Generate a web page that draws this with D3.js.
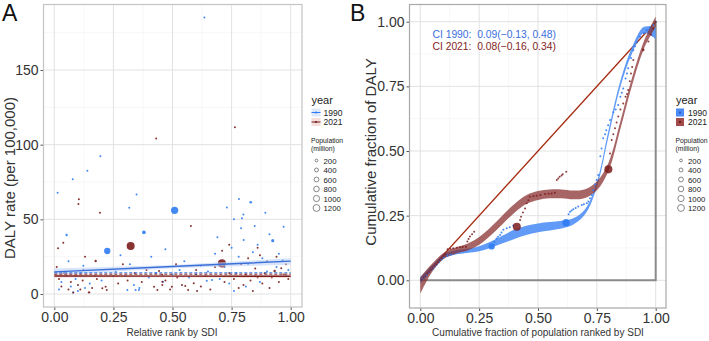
<!DOCTYPE html>
<html>
<head>
<meta charset="utf-8">
<script src="https://cdn.jsdelivr.net/npm/d3@7"></script>
<style>
  body { margin: 0; background: #fff; }
  svg { font-family: "Liberation Sans", Arial, sans-serif; }
</style>
</head>
<body>
<div class="chart-container"></div>
<script>
// ---- Panel A data: relative SDI rank vs DALY rate ----
const rankA1990 = [0.509,0.224,0.379,0.052,0.831,0.924,0.966,0.781,0.80,0.893,0.848,0.794,0.801,0.014,0.078,0.14,0.348,0.317,0.635,0.195,0.667,0.645,0.344,0.358,0.337,0.309,0.123,
  0.02,0.03,0.05,0.06,0.07,0.08,0.09,0.10,0.11,0.13,0.15,0.17,0.20,0.26,0.28,0.30,0.32,0.36,0.40,0.41,0.43,0.46,0.50,0.53,0.55,0.57,0.60,0.62,0.65,0.68,0.70,0.72,0.74,0.75,0.76,0.77,0.78,0.79,0.81,0.82,0.84,0.85,0.86,0.87,0.88,0.90,0.91,0.94,0.95,0.97,0.98,0.99,0.76,0.73,0.69,0.47];
const rateA1990 = [56,28.8,41.3,39.5,61.4,35.7,22.5,63.6,53.3,54.4,45.5,50.7,36.1,67.8,76.8,82.5,66.7,57.8,185.2,92.2,9.4,8.9,2.7,2.7,6,2.7,19,
  3,8,12,22,5,1,10,2,14,4,7,12,9,15,26,12,20,4,11,25,14,8,13,16,22,11,13,19,15,27,10,18,7,31,2,14,25,44,5,20,28,12,33,8,24,15,40,18,27,45,12,16,50,58,38,30];
const popA1990 = [1150,870,300,120,150,220,140,40,60,60,20,15,30,40,5,15,5,10,2,3,90,70,50,30,25,30,70,
  10,8,15,5,20,12,6,30,8,5,10,6,4,6,3,5,6,10,5,4,6,5,4,7,3,5,8,6,10,5,6,5,8,5,20,6,8,4,10,12,6,5,4,6,5,10,3,8,5,3,15,6,3,2,4,3];

const rankA2021 = [0.709,0.323,0.175,0.147,0.515,0.932,0.038,0.016,0.123,0.443,0.457,0.436,0.422,0.457,0.457,0.497,0.554,0.59,0.604,0.566,0.54,0.203,0.217,0.222,0.578,0.104,0.102,0.193,0.431,0.764,0.96,
  0.01,0.02,0.03,0.04,0.06,0.07,0.08,0.09,0.10,0.11,0.12,0.13,0.16,0.18,0.25,0.27,0.29,0.31,0.34,0.37,0.39,0.47,0.49,0.52,0.60,0.62,0.64,0.66,0.68,0.72,0.74,0.76,0.78,0.79,0.80,0.81,0.82,0.83,0.84,0.85,0.86,0.87,0.88,0.89,0.90,0.91,0.92,0.94,0.95,0.97,0.98,0.99,0.71,0.74,0.86];
const rateA2021 = [20.5,32.1,22.1,1.1,19.9,15.4,34.3,30.6,16,15.4,12.7,2.7,4.9,6,8.2,4.9,5.4,7.2,2,2.7,6,3.8,4.9,2.7,45.5,63.4,60.2,54.4,104.2,111.6,17.2,
  18,10,5,14,3,8,1,12,6,3,9,25,4,10,12,7,20,9,14,8,16,9,3,11,16,5,12,3,18,8,14,10,4,20,6,13,24,9,2,17,11,26,7,14,22,4,11,25,8,13,20,10,29,33,31];
const popA2021 = [1420,1410,120,120,100,130,60,15,50,40,10,60,30,15,12,50,40,20,15,40,10,25,15,20,15,4,4,5,2,2,20,
  10,8,6,12,15,10,20,8,15,10,6,4,6,5,4,6,3,4,5,6,4,5,12,8,5,6,6,10,5,12,6,8,10,6,15,8,5,6,10,6,5,4,8,10,5,8,6,4,10,12,5,6,5,4,3];

// regression fits in panel A (x, fit, lower, upper)
const fitAx = [0, 0.5, 1];
const fitA1990 = [14.8, 18.4, 22.0];
const fitA1990Lo = [12.8, 17.3, 19.6];
const fitA1990Hi = [17.0, 19.5, 24.0];
const fitA2021 = [12.1, 12.0, 11.9];
const fitA2021Lo = [11.0, 11.3, 10.8];
const fitA2021Hi = [13.2, 12.7, 13.0];
const meanA1990 = 14.2;
const meanA2021 = 13.3;

// ---- Panel B data: concentration curves ----
const cumPop1990 = [0.005,0.013,0.02,0.027,0.038,0.048,0.055,0.062,0.07,0.08,0.09,0.10,0.115,0.128,
  0.303,0.315,0.324,0.33,0.339,0.345,0.353,0.367,0.38,0.395,
  0.619,0.63,0.636,0.643,0.65,0.66,0.671,0.686,0.695,0.707,0.714,0.721,0.728,0.735,0.742,0.749,0.756,0.765,0.77,0.777,0.785,0.79,0.798,0.806,0.82,0.83,0.841,0.85,0.856,0.862,0.872,0.878,0.883,0.895,0.905,0.912,0.92,0.933,0.95,0.962,0.975,0.99,1.0];
const cumDaly1990 = [0.003,0.008,0.014,0.02,0.03,0.04,0.046,0.053,0.06,0.07,0.08,0.088,0.095,0.10,
  0.131,0.148,0.162,0.168,0.175,0.185,0.195,0.201,0.205,0.212,
  0.223,0.255,0.265,0.27,0.275,0.28,0.285,0.291,0.294,0.298,0.305,0.317,0.33,0.349,0.37,0.388,0.407,0.48,0.51,0.549,0.565,0.58,0.60,0.62,0.65,0.66,0.678,0.71,0.725,0.742,0.78,0.80,0.82,0.86,0.89,0.905,0.92,0.942,0.955,0.968,0.978,0.987,1.0];
const popB1990 = [10,15,8,20,12,25,8,30,10,15,20,10,25,15,
  870,40,30,10,50,10,40,30,20,25,
  1150,15,50,10,30,12,45,30,10,35,10,25,10,30,10,20,15,20,10,25,10,15,10,30,20,10,40,15,10,30,20,10,25,15,30,10,20,25,15,20,12,15,8];

const cumPop2021 = [0.005,0.015,0.022,0.03,0.038,0.045,0.052,0.06,0.068,0.075,0.083,0.09,0.098,0.105,0.116,0.128,0.14,0.155,0.169,0.18,0.194,0.20,0.205,0.211,0.22,0.229,
  0.41,0.424,0.428,0.436,0.445,0.452,0.459,0.465,0.48,0.494,0.51,0.53,0.545,0.558,0.572,0.58,0.586,0.592,0.60,0.605,0.62,
  0.799,0.806,0.813,0.82,0.827,0.834,0.841,0.85,0.862,0.872,0.878,0.883,0.89,0.895,0.90,0.905,0.947,0.969,0.98,0.99,1.0];
const cumDaly2021 = [0.002,0.01,0.016,0.025,0.032,0.04,0.047,0.055,0.062,0.07,0.078,0.085,0.093,0.10,0.12,0.122,0.124,0.126,0.128,0.129,0.13,0.15,0.16,0.169,0.178,0.188,
  0.207,0.233,0.246,0.262,0.278,0.298,0.31,0.323,0.325,0.327,0.33,0.334,0.335,0.336,0.339,0.388,0.394,0.40,0.405,0.41,0.42,
  0.429,0.49,0.543,0.565,0.588,0.61,0.633,0.66,0.684,0.71,0.72,0.736,0.77,0.80,0.825,0.852,0.891,0.923,0.95,0.974,1.0];
const popB2021 = [10,15,8,20,10,25,8,20,10,30,10,25,10,20,40,15,50,15,40,10,50,20,10,25,15,20,
  1410,50,40,15,30,25,20,60,15,70,15,50,15,40,30,25,10,20,10,25,20,
  1420,10,30,10,25,10,25,20,30,20,10,25,10,20,10,30,150,40,20,25,8];

// fitted curves with confidence band (x, centre, half width)
const fitBx = [0,0.05,0.1,0.15,0.2,0.25,0.3,0.35,0.4,0.45,0.5,0.55,0.6,0.65,0.7,0.75,0.8,0.85,0.9,0.95,1.0];
const fitB1990 = [0.0,0.05,0.093,0.108,0.114,0.122,0.138,0.158,0.178,0.193,0.203,0.209,0.215,0.228,0.265,0.37,0.57,0.76,0.89,0.968,0.955];
const fitB1990Hw = [0.012,0.008,0.008,0.008,0.008,0.01,0.012,0.015,0.018,0.018,0.017,0.016,0.015,0.012,0.01,0.01,0.012,0.012,0.012,0.012,0.022];
const fitB2021 = [-0.02,0.048,0.095,0.115,0.128,0.152,0.19,0.235,0.278,0.312,0.328,0.334,0.334,0.33,0.335,0.365,0.44,0.6,0.77,0.91,1.0];
const fitB2021Hw = [0.032,0.016,0.012,0.012,0.013,0.015,0.016,0.017,0.017,0.017,0.017,0.017,0.017,0.017,0.017,0.017,0.016,0.015,0.015,0.015,0.02];

const ciLabels = ["CI 1990:  0.09(\u22120.13, 0.48)", "CI 2021:  0.08(\u22120.16, 0.34)"];
const popLegend = [200, 400, 600, 800, 1000, 1200];
const years = ["1990", "2021"];

// colours
const blue = "#2f7bf2";
const red = "#7b1c1c";

const width = 709;
const height = 341;

const svg = d3.select(".chart-container")
  .append("svg")
  .attr("width", width)
  .attr("height", height);

// point size scale shared by both panels
const size = d3.scaleSqrt().domain([0, 1400]).range([0, 4.0]);
const rad = p => Math.max(1.0, size(p));

// generic panel frame: grid, ticks, labels
function drawFrame(x, y, box, xTicks, yTicks, xMinor, yMinor, xFmt, yFmt) {
  const g = svg.append("g");
  g.append("rect")
    .attr("x", box.x0).attr("y", box.y0)
    .attr("width", box.x1 - box.x0).attr("height", box.y1 - box.y0)
    .attr("fill", "#fff");
  // minor grid
  g.selectAll(".xminor").data(xMinor).enter().append("line")
    .attr("x1", d => x(d)).attr("x2", d => x(d))
    .attr("y1", box.y0).attr("y2", box.y1)
    .attr("stroke", "#f1f1f1").attr("stroke-width", 0.6);
  g.selectAll(".yminor").data(yMinor).enter().append("line")
    .attr("y1", d => y(d)).attr("y2", d => y(d))
    .attr("x1", box.x0).attr("x2", box.x1)
    .attr("stroke", "#f1f1f1").attr("stroke-width", 0.6);
  // major grid
  g.selectAll(".xmajor").data(xTicks).enter().append("line")
    .attr("x1", d => x(d)).attr("x2", d => x(d))
    .attr("y1", box.y0).attr("y2", box.y1)
    .attr("stroke", "#e2e2e2").attr("stroke-width", 1);
  g.selectAll(".ymajor").data(yTicks).enter().append("line")
    .attr("y1", d => y(d)).attr("y2", d => y(d))
    .attr("x1", box.x0).attr("x2", box.x1)
    .attr("stroke", "#e2e2e2").attr("stroke-width", 1);

  // axes using d3 axis generators
  const xAxis = svg.append("g")
    .attr("transform", `translate(0,${box.y1})`)
    .call(d3.axisBottom(x).tickValues(xTicks).tickFormat(xFmt).tickSize(3).tickPadding(2));
  const yAxis = svg.append("g")
    .attr("transform", `translate(${box.x0},0)`)
    .call(d3.axisLeft(y).tickValues(yTicks).tickFormat(yFmt).tickSize(3).tickPadding(2));
  [xAxis, yAxis].forEach(a => {
    a.select(".domain").remove();
    a.selectAll("line").attr("stroke", "#555");
    a.selectAll("text").attr("fill", "#333").style("font-size", "14px")
      .style("font-family", "Liberation Sans, Arial, sans-serif");
  });
  return g;
}

function drawBorder(box, col, w) {
  svg.append("rect")
    .attr("x", box.x0).attr("y", box.y0)
    .attr("width", box.x1 - box.x0).attr("height", box.y1 - box.y0)
    .attr("fill", "none").attr("stroke", col).attr("stroke-width", w);
}

// ================= Panel A =================
const boxA = {x0: 43.5, x1: 302, y0: 4.5, y1: 307};
const xA = d3.scaleLinear().domain([0, 1]).range([54.3, 290.7]);
const yA = d3.scaleLinear().domain([0, 150]).range([294, 70]);

drawFrame(xA, yA, boxA, [0, 0.25, 0.5, 0.75, 1], [0, 50, 100, 150],
  [0.125, 0.375, 0.625, 0.875], [25, 75, 125, 175], d3.format(".2f"), d3.format("d"));

const gA = svg.append("g");
const ptsA1990 = rankA1990.map((r, i) => ({x: r, y: rateA1990[i], p: popA1990[i]}));
const ptsA2021 = rankA2021.map((r, i) => ({x: r, y: rateA2021[i], p: popA2021[i]}));

gA.selectAll(".pa1990").data(ptsA1990).enter().append("circle")
  .attr("cx", d => xA(d.x)).attr("cy", d => yA(d.y)).attr("r", d => rad(d.p))
  .attr("fill", blue).attr("opacity", 0.9);
gA.selectAll(".pa2021").data(ptsA2021).enter().append("circle")
  .attr("cx", d => xA(d.x)).attr("cy", d => yA(d.y)).attr("r", d => rad(d.p))
  .attr("fill", red).attr("opacity", 0.9);

// ribbons + fitted lines
const bandA = d3.area().x(d => xA(d.x)).y0(d => yA(d.lo)).y1(d => yA(d.hi));
const lineA = d3.line().x(d => xA(d.x)).y(d => yA(d.y));
const fA1990 = fitAx.map((x, i) => ({x, y: fitA1990[i], lo: fitA1990Lo[i], hi: fitA1990Hi[i]}));
const fA2021 = fitAx.map((x, i) => ({x, y: fitA2021[i], lo: fitA2021Lo[i], hi: fitA2021Hi[i]}));

gA.append("path").datum(fA1990).attr("d", bandA).attr("fill", "#bcd2f5").attr("opacity", 0.6);
gA.append("path").datum(fA2021).attr("d", bandA).attr("fill", "#e8b9b9").attr("opacity", 0.6);
gA.append("line")
  .attr("x1", xA(0)).attr("x2", xA(1)).attr("y1", yA(meanA1990)).attr("y2", yA(meanA1990))
  .attr("stroke", blue).attr("stroke-width", 1).attr("stroke-dasharray", "3,2");
gA.append("line")
  .attr("x1", xA(0)).attr("x2", xA(1)).attr("y1", yA(meanA2021)).attr("y2", yA(meanA2021))
  .attr("stroke", red).attr("stroke-width", 1).attr("stroke-dasharray", "3,2");
gA.append("path").datum(fA1990).attr("d", lineA).attr("fill", "none")
  .attr("stroke", "#3a6fd8").attr("stroke-width", 1.4);
gA.append("path").datum(fA2021).attr("d", lineA).attr("fill", "none")
  .attr("stroke", red).attr("stroke-width", 1.4);

drawBorder(boxA, "#c4c4c4", 1.2);

// axis titles A
svg.append("text").attr("x", 172).attr("y", 336).attr("text-anchor", "middle")
  .style("font-size", "10px").attr("fill", "#333").text("Relative rank by SDI");
svg.append("text").attr("transform", "translate(15,178) rotate(-90)").attr("text-anchor", "middle")
  .style("font-size", "15px").attr("fill", "#333").text("DALY rate (per 100,000)");
svg.append("text").attr("x", 2).attr("y", 21).style("font-size", "23px").attr("fill", "#111").text("A");

// ================= Panel B =================
const boxB = {x0: 409.5, x1: 666, y0: 4.5, y1: 308};
const xB = d3.scaleLinear().domain([0, 1]).range([420.3, 655.7]);
const yB = d3.scaleLinear().domain([0, 1]).range([280.3, 21.7]);

drawFrame(xB, yB, boxB, [0, 0.25, 0.5, 0.75, 1], [0, 0.25, 0.5, 0.75, 1],
  [0.125, 0.375, 0.625, 0.875], [0.125, 0.375, 0.625, 0.875], d3.format(".2f"), d3.format(".2f"));

const gB = svg.append("g");
// equality reference lines
gB.append("path")
  .attr("d", d3.line()([[xB(0), yB(0)], [xB(1), yB(0)], [xB(1), yB(1)]]))
  .attr("fill", "none").attr("stroke", "#8a8a8a").attr("stroke-width", 2);
gB.append("line")
  .attr("x1", xB(0)).attr("y1", yB(0)).attr("x2", xB(1)).attr("y2", yB(1))
  .attr("stroke", "#a52a10").attr("stroke-width", 1.3);

const bandB = d3.area().curve(d3.curveCatmullRom)
  .x(d => xB(d.x)).y0(d => yB(d.y - d.hw)).y1(d => yB(d.y + d.hw));
const fB1990 = fitBx.map((x, i) => ({x, y: fitB1990[i], hw: fitB1990Hw[i]}));
const fB2021 = fitBx.map((x, i) => ({x, y: fitB2021[i], hw: fitB2021Hw[i]}));
gB.append("path").datum(fB1990).attr("d", bandB).attr("fill", "#5090f6").attr("opacity", 0.9);
gB.append("path").datum(fB2021).attr("d", bandB).attr("fill", "#85292a").attr("opacity", 0.72);

const ptsB1990 = cumPop1990.map((x, i) => ({x, y: cumDaly1990[i], p: popB1990[i]}));
const ptsB2021 = cumPop2021.map((x, i) => ({x, y: cumDaly2021[i], p: popB2021[i]}));

gB.selectAll(".pb1990").data(ptsB1990).enter().append("circle")
  .attr("cx", d => xB(d.x)).attr("cy", d => yB(d.y)).attr("r", d => rad(d.p))
  .attr("fill", blue).attr("opacity", 0.9);
gB.selectAll(".pb2021").data(ptsB2021).enter().append("circle")
  .attr("cx", d => xB(d.x)).attr("cy", d => yB(d.y)).attr("r", d => rad(d.p))
  .attr("fill", red).attr("opacity", 0.85);

drawBorder(boxB, "#a9a9a9", 1.2);

// CI annotations (keep the double space after the colon)
svg.selectAll(".ci").data(ciLabels).enter().append("text")
  .attr("x", 432.5).attr("y", (d, i) => 37.5 + i * 12.5)
  .attr("xml:space", "preserve")
  .style("white-space", "pre")
  .style("font-size", "10.3px")
  .attr("fill", (d, i) => i === 0 ? "#3a6ee0" : "#842424")
  .text(d => d);

svg.append("text").attr("x", 538).attr("y", 336).attr("text-anchor", "middle")
  .style("font-size", "10px").attr("fill", "#333").text("Cumulative fraction of population ranked by SDI");
svg.append("text").attr("transform", "translate(376,152) rotate(-90)").attr("text-anchor", "middle")
  .style("font-size", "15px").attr("fill", "#333").text("Cumulative fraction of DALY");
svg.append("text").attr("x", 350).attr("y", 21).style("font-size", "23px").attr("fill", "#111").text("B");

// ================= Legends =================
function drawLegend(lx, type) {
  const g = svg.append("g");
  g.append("text").attr("x", lx).attr("y", 104).style("font-size", "11px").attr("fill", "#222").text("year");
  years.forEach((yr, i) => {
    const ky = 112.5 + i * 9.5;
    const col = i === 0 ? blue : red;
    if (type === "line") {
      g.append("rect").attr("x", lx).attr("y", ky - 4).attr("width", 9).attr("height", 8)
        .attr("fill", i === 0 ? "#dfe8f8" : "#f3dede");
      g.append("line").attr("x1", lx).attr("x2", lx + 9).attr("y1", ky).attr("y2", ky)
        .attr("stroke", col).attr("stroke-width", 1);
      g.append("circle").attr("cx", lx + 4.5).attr("cy", ky).attr("r", 1.1).attr("fill", col);
    } else {
      g.append("rect").attr("x", lx).attr("y", ky - 4).attr("width", 8).attr("height", 8)
        .attr("fill", i === 0 ? "#4c8af5" : "#a34a4a");
      g.append("circle").attr("cx", lx + 4).attr("cy", ky).attr("r", 0.9).attr("fill", i === 0 ? "#1d4fb0" : "#4a0d0d");
    }
    g.append("text").attr("x", lx + 12).attr("y", ky + 3).style("font-size", "8.5px").attr("fill", "#222").text(yr);
  });
  g.append("text").attr("x", lx - 0.5).attr("y", 142.5).style("font-size", "6.8px").attr("fill", "#222").text("Population");
  g.append("text").attr("x", lx - 0.5).attr("y", 150.5).style("font-size", "6.8px").attr("fill", "#222").text("(million)");
  popLegend.forEach((p, i) => {
    const cy = 160.5 + i * 9.5;
    g.append("circle").attr("cx", lx + 5).attr("cy", cy).attr("r", size(p) * 0.92)
      .attr("fill", "none").attr("stroke", "#555").attr("stroke-width", 0.7);
    g.append("text").attr("x", lx + 12).attr("y", cy + 3).style("font-size", "7.8px").attr("fill", "#222").text(p);
  });
}
drawLegend(311.5, "line");
drawLegend(676, "box");
</script>
</body>
</html>
